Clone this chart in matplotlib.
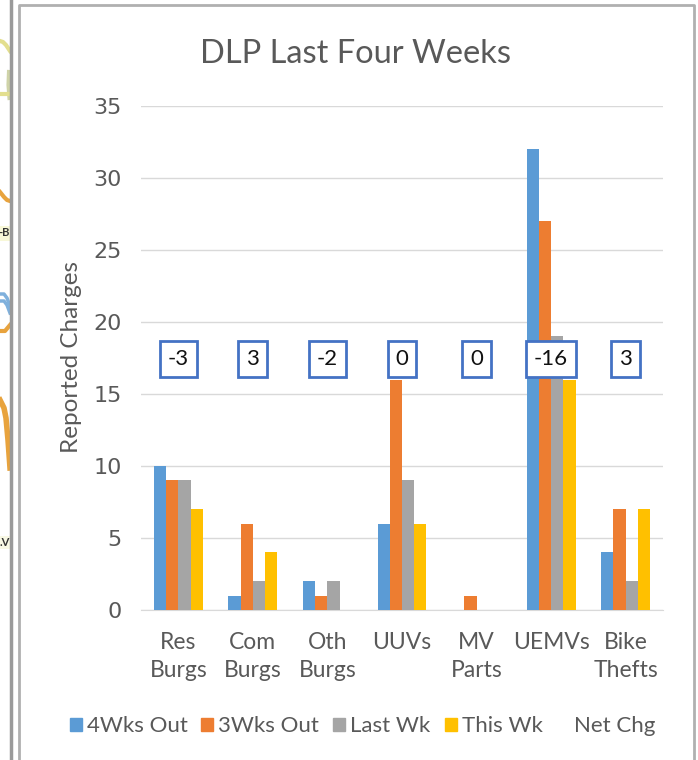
import matplotlib
matplotlib.use('Agg')
import matplotlib.pyplot as plt
import numpy as np
from matplotlib.patches import Rectangle

plt.rcParams['font.family'] = ['Lato', 'DejaVu Sans']

# Values
categories = ['Res\nBurgs', 'Com\nBurgs', 'Oth\nBurgs', 'UUVs', 'MV\nParts', 'UEMVs', 'Bike\nThefts']
wks4_out = [10, 1, 2, 6, 0, 32, 4]
wks3_out = [9, 6, 1, 16, 1, 27, 7]
last_wk = [9, 2, 2, 9, 0, 19, 2]
this_wk = [7, 4, 0, 6, 0, 16, 7]
net_chg = [-3, 3, -2, 0, 0, -16, 3]
net_level = [17.4, 17.4, 17.4, 17.4, 17.4, 17.4, 17.4]

series_names = ['4Wks Out', '3Wks Out', 'Last Wk', 'This Wk']
series_colors = ['#5B9BD5', '#ED7D31', '#A5A5A5', '#FFC000']
W, H = 698, 760
TXT = '#595959'

fig = plt.figure(figsize=(W / 100, H / 100), dpi=100, facecolor='white')

# Main axes placed at pixel positions of the reference
ax = fig.add_axes([141 / W, 1 - 610 / H, (663 - 141) / W, (610 - 106) / H])
series = [wks4_out, wks3_out, last_wk, this_wk]
x = np.arange(len(categories))
bar_w = 0.164
for i, vals in enumerate(series):
    ax.bar(x + (i - 1.5) * bar_w, vals, bar_w, color=series_colors[i], zorder=3)

ax.set_xlim(-0.5, 6.5)
ax.set_ylim(0, 35)
ax.set_yticks(range(0, 36, 5))
ax.set_xticks(x)
ax.set_xticklabels(categories, fontsize=16.5, color=TXT, linespacing=1.4)
ax.tick_params(axis='both', length=0)
ax.tick_params(axis='x', pad=16)
ax.tick_params(axis='y', pad=14, labelsize=16, labelcolor=TXT)
for lab in ax.get_yticklabels():
    lab.set_family('DejaVu Sans')
ax.grid(axis='y', color='#D9D9D9', lw=1, zorder=0)
for s in ['top', 'left', 'right']:
    ax.spines[s].set_visible(False)
ax.spines['bottom'].set_color('#D9D9D9')

# Net change boxes
for xi, lvl, chg in zip(x, net_level, net_chg):
    ax.text(xi, lvl, str(chg), ha='center', va='center', fontsize=16, color='#111111', zorder=5,
            bbox=dict(boxstyle='square,pad=0.36', fc='white', ec='#4472C4', lw=2))

fig.text(355.5 / W, 1 - 54 / H, 'DLP Last Four Weeks', ha='center', va='center', fontsize=23.5, color=TXT)
fig.text(71 / W, 1 - 357 / H, 'Reported Charges', ha='center', va='center', rotation=90, fontsize=17.5, color=TXT)

# Legend drawn by hand so that the spacing matches
legend_x = [70, 201, 333, 445]
for px, name, col in zip(legend_x, series_names, series_colors):
    fig.add_artist(Rectangle((px / W, 1 - 731 / H), 12 / W, 13 / H, color=col, transform=fig.transFigure))
    fig.text((px + 17) / W, 1 - 726 / H, name, ha='left', va='center', fontsize=16, color=TXT)
fig.text(574 / W, 1 - 726 / H, 'Net Chg', ha='left', va='center', fontsize=16, color=TXT)

# Frames around the chart, plus the bits of map showing at the left edge
bg = fig.add_axes([0, 0, 1, 1], zorder=-1)
bg.set_xlim(0, W)
bg.set_ylim(H, 0)
bg.axis('off')
bg.plot([0, 3, 6, 10], [41, 42, 45, 51], color='#E3DF8E', lw=3)
bg.plot([9, 8.5, 9.5], [72, 85, 98], color='#CFD3A8', lw=3)
bg.plot([0, 10], [94, 94], color='#E3DF8E', lw=3)
bg.plot([0, 4, 7, 10], [192, 197, 200, 201], color='#E8A33D', lw=3)
bg.plot([0, 4, 7, 10], [294, 294, 298, 306], color='#7FB0DC', lw=2.5)
bg.plot([0, 4, 7, 10], [301, 301, 305, 313], color='#7FB0DC', lw=2.5)
bg.plot([0, 5, 10], [331, 331, 325], color='#E8A33D', lw=3)
bg.plot([0, 4, 6, 8, 10], [400, 408, 418, 440, 468], color='#E8A33D', lw=4)
bg.add_patch(Rectangle((0, 226), 10, 15, color='#F8F8D8', lw=0))
bg.text(10, 233, '-B', ha='right', va='center', fontsize=8, color='#333333', fontweight='bold')
bg.add_patch(Rectangle((0, 536), 10, 13, color='#F8F8E4', lw=0))
bg.text(10, 542, '.V', ha='right', va='center', fontsize=8, color='#333333', fontweight='bold')
bg.plot([11, 11], [0, H], color='#9A9A9A', lw=2.5)
bg.plot([19, 19, 694, 694], [H, 5, 5, H], color='#B0B0B0', lw=2)

fig.savefig('out.png', dpi=100)
